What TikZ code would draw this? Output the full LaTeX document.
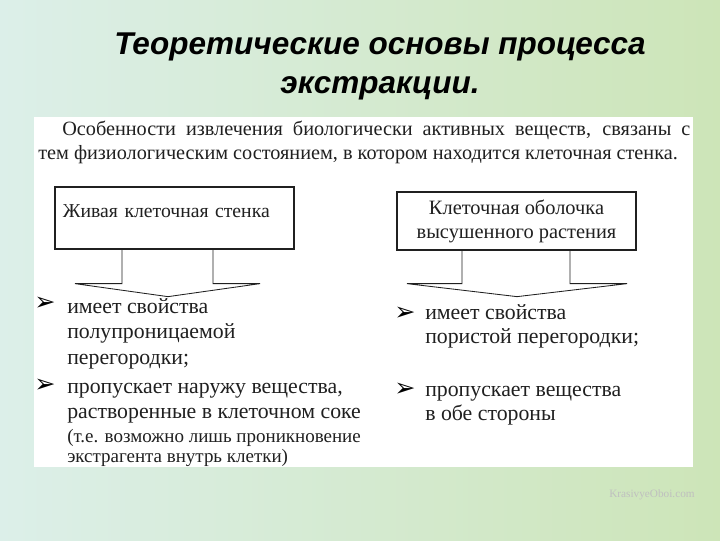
\documentclass[tikz,border=0pt]{standalone}
\usepackage{fontspec}
\setmainfont{Liberation Serif}
\newfontfamily\headfont{Liberation Sans}
\newfontfamily\dingfont{DejaVu Sans}
\usetikzlibrary{positioning, calc}
\definecolor{bgleft}{HTML}{DCEFE9}
\definecolor{bgmid}{HTML}{EFF7E8}
\definecolor{bgright}{HTML}{CDE5B8}
\definecolor{ink}{HTML}{202020}
\tikzset{
    cellbox/.style={draw=ink, line width=0.9pt, minimum width=5.975cm, text=ink},
    pointer/.style={draw=ink, line width=0.6pt},
    item/.style={anchor=base west, align=left, inner sep=0pt, text=ink, font=\fontsize{15.5}{18}\selectfont},
    itemmark/.style={inner sep=0pt, text=black, font=\dingfont\fontsize{18}{18}\selectfont}
}

\begin{document}
\begin{tikzpicture}[x=0.025cm, y=-0.025cm]
    % Background
    \shade[left color=bgleft, middle color=bgmid, right color=bgright] (0,0) rectangle (720,540);
    \useasboundingbox (0,0) rectangle (720,540);
    % Title
    \node[anchor=north, align=center, inner sep=0pt, font=\headfont\bfseries\itshape\fontsize{22.4}{27.5}\selectfont] (title) at (380,33) {Теоретические основы процесса\\экстракции.};
    % Panel
    \fill[white] (34,117) rectangle (693,467);
    % Intro text
    \node[anchor=north west, inner sep=0pt, text width=16.3cm, align=justify, text=ink, font=\fontsize{14.4}{17}\selectfont] (intro) at (38,121) {\hspace*{0.6cm}Особенности извлечения биологически активных веществ, связаны с\linebreak тем физиологическим состоянием, в котором находится клеточная стенка.};
    % Boxes
    \node[cellbox, minimum height=1.55cm, text width=5.575cm, text depth=0.34cm, align=left, font=\fontsize{14}{17}\selectfont] (live) at (174.5,218) {Живая клеточная стенка};
    \node[cellbox, minimum height=1.45cm, align=center, font=\fontsize{14.5}{17}\selectfont] (dried) at (516.5,221) {Клеточная оболочка\\высушенного растения};
    % Arrows under the boxes
    \draw[pointer] ($(live.south)+(-52.5,0)$) -- ++(0,34) -- ++(-47,0) -- ++(93,13) -- ++(92,-13) -- ++(-47,0) -- ++(0,-34);
    \draw[pointer] ($(dried.south)+(-54.5,0)$) -- ++(0,33) -- ++(-55,0) -- ++(110,13) -- ++(110,-13) -- ++(-57,0) -- ++(0,-33);
    % Left list (base = last line)
    \node[itemmark] (liveAmark) at (45,304) {➢};
    \node[item] (liveA) at (67,364) {имеет свойства\\полупроницаемой\\перегородки;};
    \node[itemmark] (liveBmark) at (45,386) {➢};
    \node[item] (liveB) at (67,462) {пропускает наружу вещества,\\растворенные в клеточном соке\\[-1pt]{\fontsize{13.5}{15}\selectfont (т.е. возможно лишь проникновение}\\[-4pt]{\fontsize{13.5}{15}\selectfont экстрагента внутрь клетки)}};
    % Right list
    \node[itemmark] (driedAmark) at (405,314) {➢};
    \node[item] (driedA) at (425,343) {имеет свойства\\[-1.5pt]пористой перегородки;};
    \node[itemmark] (driedBmark) at (405,390) {➢};
    \node[item] (driedB) at (425,420) {пропускает вещества\\[-1.5pt]в обе стороны};
    % Credit
    \node[text=white!75!black, font=\fontsize{8}{9}\selectfont] (credit) at (652,495) {KrasivyeOboi.com};
\end{tikzpicture}
\end{document}
